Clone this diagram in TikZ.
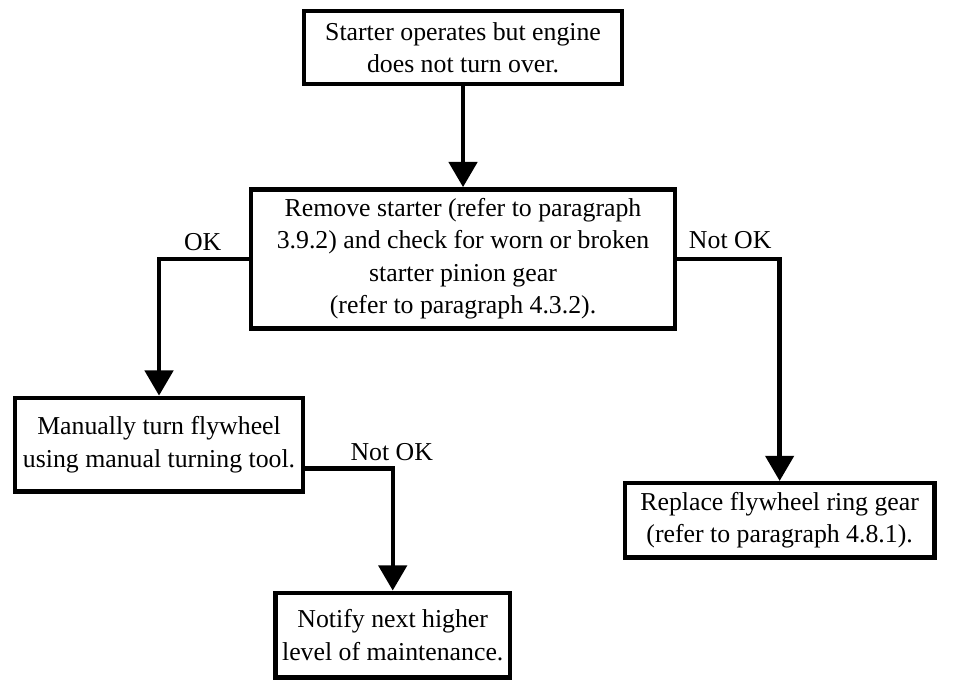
\documentclass[tikz,border=0pt]{standalone}
\usepackage{fontspec}
\setmainfont{Liberation Serif}
\usetikzlibrary{arrows.meta}
\begin{document}
\begin{tikzpicture}[x=1pt,y=-1pt,
  box/.style={draw, line width=4.6pt, inner sep=0pt, align=center, fill=white,
    font=\fontsize{26.6}{33.5}\selectfont},
  lbl/.style={inner sep=0pt, font=\fontsize{26.6}{33.5}\selectfont},
  arr/.style={line width=4.6pt, -{Triangle[width=29pt,length=26pt]}}]
\useasboundingbox[fill=white] (0,0) rectangle (990,711);
\node[box, minimum width=328.4pt, minimum height=75.4pt] (b1) at (477.5,49)
  {Starter operates but engine\\does not turn over.};
\node[box, minimum width=437.4pt, minimum height=143.4pt] (b2) at (477.5,267)
  {Remove starter (refer to paragraph\\3.9.2) and check for worn or broken\\starter pinion gear\\(refer to paragraph 4.3.2).};
\node[box, minimum width=297.4pt, minimum height=96.4pt] (b3) at (164,458.5)
  {Manually turn flywheel\\using manual turning tool.};
\node[box, minimum width=319.4pt, minimum height=76.4pt] (b4) at (804,536.5)
  {Replace flywheel ring gear\\(refer to paragraph 4.8.1).};
\node[box, minimum width=241.4pt, minimum height=87.4pt] (b5) at (405,655)
  {Notify next higher\\level of maintenance.};
\node[lbl] (okl) at (209,250) {OK};
\node[lbl] (nok1) at (753,248) {Not OK};
\node[lbl] (nok2) at (404,466) {Not OK};
\draw[arr] (b1.south) -- (b2.north);
\draw[arr] (b2.west) -| (b3.north);
\draw[arr] (b2.east) -| (b4.north);
\draw[arr] ([yshift=-24.5pt]b3.east) -| (b5.north);
\end{tikzpicture}
\end{document}
